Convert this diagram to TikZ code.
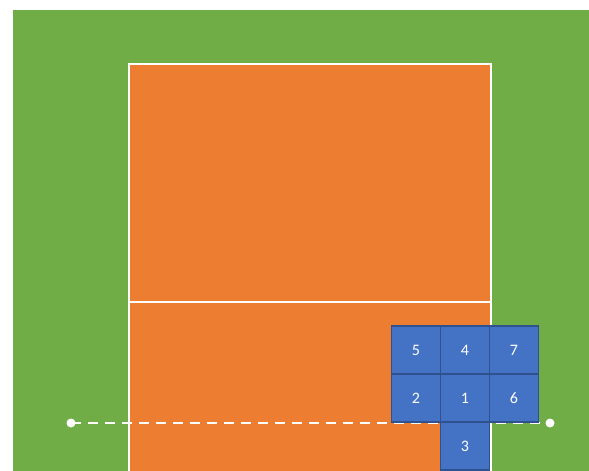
\documentclass[tikz,border=0pt]{standalone}
\usepackage{fontspec}
\setmainfont{Carlito}
\definecolor{grass}{HTML}{70AD47}
\definecolor{court}{HTML}{ED7D31}
\definecolor{zone}{HTML}{4472C4}
\definecolor{zoneline}{HTML}{2F528F}
\begin{document}
\begin{tikzpicture}[x=1pt,y=-1pt,
  zonebox/.style={draw=zoneline,line width=1.2pt,fill=zone,text=white,minimum width=49pt,minimum height=48pt,inner sep=0pt,font=\fontsize{16}{18}\selectfont},
  courtline/.style={draw=white,line width=2pt},
  enddot/.style={circle,fill=white,inner sep=0pt,minimum size=9pt}]
\useasboundingbox (0,0) rectangle (589,471);
\fill[white] (0,0) rectangle (589,471);
\fill[grass] (13,10) rectangle (589,471);
\fill[court,courtline] (129,64) rectangle (491,480);
\draw[courtline] (129,302) -- (491,302);
\node[enddot] (L) at (71,423) {};
\node[enddot] (R) at (550,423) {};
\draw[white,line width=2.2pt,dash pattern=on 10pt off 7pt] (L.center) -- (R.center);
\node[zonebox] (z5) at (416,350) {5};
\node[zonebox] (z4) at (465,350) {4};
\node[zonebox] (z7) at (514,350) {7};
\node[zonebox] (z2) at (416,398) {2};
\node[zonebox] (z1) at (465,398) {1};
\node[zonebox] (z6) at (514,398) {6};
\node[zonebox] (z3) at (465,446) {3};
\end{tikzpicture}
\end{document}
